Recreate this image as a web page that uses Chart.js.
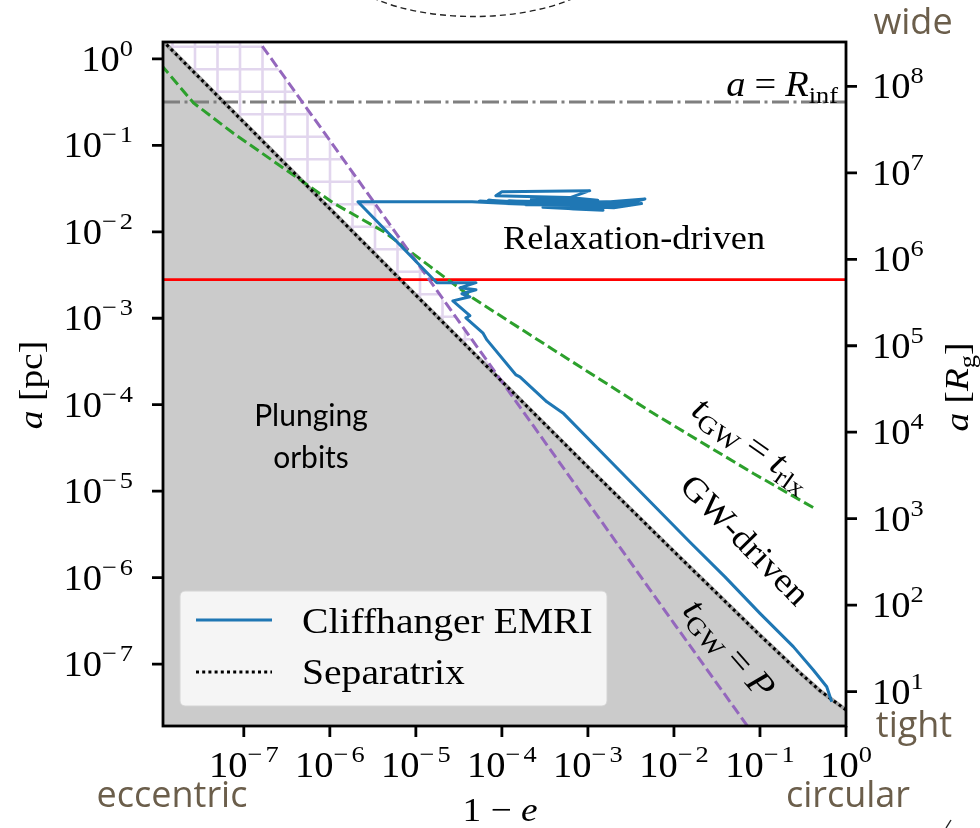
<!DOCTYPE html>
<html>
<head>
<meta charset="utf-8">
<script src="https://cdn.jsdelivr.net/npm/chart.js@4.4.1/dist/chart.umd.min.js"></script>
<style>
  html, body { margin: 0; padding: 0; background: #fff; }
  #chart { display: block; }
</style>
</head>
<body>
<canvas id="chart" width="980" height="828"></canvas>
<script>
// axis ranges: 1-e on x, semi-major axis a [pc] on y, a [Rg] on the right
const xMin = 1.15e-8, xMax = 1;
const aMin = 1.92e-8, aMax = 1.57;
const PC_TO_RG = 2.08e8;

const xTicks = [1e-7, 1e-6, 1e-5, 1e-4, 1e-3, 1e-2, 1e-1, 1e0];
const pcTicks = [1e0, 1e-1, 1e-2, 1e-3, 1e-4, 1e-5, 1e-6, 1e-7];
const rgTicks = [1e8, 1e7, 1e6, 1e5, 1e4, 1e3, 1e2, 1e1];

// separatrix (plunge boundary)
const sepX = [1e-8, 1e-6, 1e-5, 1e-4, 1e-3, 1e-2, 0.1, 0.3, 0.5, 1];
const sepA = [1.85, 1.85e-2, 1.85e-3, 1.86e-4, 1.9e-5, 2.0e-6, 2.15e-7, 7.7e-8, 4.9e-8, 2.95e-8];

// t_GW = P
const periodX = [1e-8, 1e-7, 1e-6, 1e-5, 1e-4, 1e-3, 1e-2, 0.1];
const periodA = [70, 2.8, 0.114, 4.6e-3, 1.85e-4, 7.4e-6, 2.96e-7, 1.2e-8];

// t_GW = t_rlx
const relaxX = [1.1e-8, 2.6e-8, 7.5e-8, 3.1e-7, 1.1e-6, 4.2e-6, 1.46e-5, 4.6e-5, 4.0e-4, 5.7e-3, 8.4e-2, 0.46];
const relaxA = [0.85, 0.31, 0.139, 0.052, 0.0215, 0.0101, 3.98e-3, 1.71e-3, 4.3e-4, 8.0e-5, 1.6e-5, 6.1e-6];

// horizontal levels
const redA = 2.8e-3;
const rInfA = 0.318;

// Cliffhanger EMRI track: relaxation random walk, jump, then GW inspiral
const emriX = [4.0e-3, 1.2e-3, 4.6e-3, 2.5e-3, 3.6e-3, 8.0e-4, 2.0e-3, 4.2e-3, 6.0e-4, 1.5e-3,
  3.0e-4, 1.05e-3, 1.0e-4, 8.5e-5, 6.0e-4, 1.3e-3, 2.2e-4, 3.0e-3, 1.6e-4, 2.4e-3,
  3.4e-4, 3.8e-3, 2.0e-4, 1.1e-3, 2.6e-4, 2.2e-3, 1.4e-4, 9.0e-4, 3.2e-3, 4.0e-4,
  1.7e-3, 1.1e-4, 7.5e-4, 2.9e-3, 1.9e-4, 1.4e-3, 8.0e-5, 6.5e-4, 2.7e-3, 2.4e-4,
  9.0e-4, 1.2e-4, 1.8e-3, 5.0e-4, 7.0e-5, 1.0e-3, 2.8e-4, 5.5e-5, 7.0e-4, 1.6e-4,
  4.5e-5, 2.12e-6, 1.75e-5, 5.0e-5, 3.25e-5, 5.0e-5, 3.43e-5, 4.25e-5, 2.69e-5, 4.25e-5,
  3.81e-5, 6.0e-5, 6.7e-5, 1.46e-4, 1.62e-4, 3.33e-4, 5.12e-4, 2.36e-3, 1.53e-2, 3.92e-2,
  0.1, 0.244, 0.417, 0.597, 0.682];
const emriA = [0.0232, 0.0215, 0.0240, 0.0205, 0.0222, 0.0196, 0.0190, 0.0212, 0.0185, 0.0178,
  0.0192, 0.0299, 0.0290, 0.0262, 0.0250, 0.0232, 0.0238, 0.0214, 0.0221, 0.0200,
  0.0207, 0.0226, 0.0216, 0.0203, 0.0224, 0.0210, 0.0218, 0.0200, 0.0219, 0.0209,
  0.0194, 0.0213, 0.0222, 0.0203, 0.0206, 0.0216, 0.0220, 0.0199, 0.0224, 0.0211,
  0.0220, 0.0228, 0.0208, 0.0205, 0.0232, 0.0198, 0.0214, 0.0226, 0.0212, 0.0210,
  0.0223, 0.0223, 2.58e-3, 2.58e-3, 2.25e-3, 2.14e-3, 1.92e-3, 1.77e-3, 1.59e-3, 1.07e-3,
  1.01e-3, 6.78e-4, 5.62e-4, 2.21e-4, 2.10e-4, 1.08e-4, 8.04e-5, 1.71e-5, 2.58e-6, 1.02e-6,
  3.86e-7, 1.59e-7, 8.53e-8, 5.46e-8, 3.66e-8];

const SERIF = '"Liberation Serif", "Times New Roman", serif';
const SANS = '"Open Sans", "Noto Sans", sans-serif';
const STRETCH = 1.1;
const BROWN = '#6b5e4b';

function pts(xs, ys) {
  return xs.map((x, i) => ({ x: x, y: ys[i] }));
}

function makeHatch() {
  const c = document.createElement('canvas');
  c.width = 45; c.height = 45;
  const g = c.getContext('2d');
  g.strokeStyle = '#e2d6ee';
  g.lineWidth = 2.6;
  [15, 37.5].forEach(v => { g.beginPath(); g.moveTo(v, 0); g.lineTo(v, 45); g.stroke(); });
  [1.7, 24.2].forEach(h => { g.beginPath(); g.moveTo(0, h); g.lineTo(45, h); g.stroke(); });
  return g.createPattern(c, 'repeat');
}

// draw a run of text pieces (math-like labels) on one baseline
function drawRuns(ctx, runs, x, y, align) {
  let w = 0;
  runs.forEach(r => {
    ctx.font = (r.i ? 'italic ' : '') + r.s + 'px ' + SERIF;
    r.w = ctx.measureText(r.t).width * STRETCH + (r.gap || 0);
    w += r.w;
  });
  let cx = align === 'center' ? x - w / 2 : align === 'right' ? x - w : x;
  runs.forEach(r => {
    ctx.save();
    ctx.translate(cx, y + (r.dy || 0));
    ctx.scale(STRETCH, 1);
    ctx.font = (r.i ? 'italic ' : '') + r.s + 'px ' + SERIF;
    ctx.textAlign = 'left';
    ctx.textBaseline = 'alphabetic';
    ctx.fillText(r.t, 0, 0);
    ctx.restore();
    cx += r.w;
  });
}

function powLabel(ctx, v, x, y, align) {
  const k = Math.round(Math.log10(v));
  const runs = [{ t: '10', s: 35 }];
  if (k < 0) {
    runs.push({ t: '\u2212', s: 24, dy: -15, gap: 3 }, { t: String(-k), s: 24, dy: -15 });
  } else {
    runs.push({ t: String(k), s: 24, dy: -15 });
  }
  drawRuns(ctx, runs, x, y, align);
}

function rotated(ctx, runs, x, y, deg) {
  ctx.save();
  ctx.translate(x, y);
  ctx.rotate(deg * Math.PI / 180);
  drawRuns(ctx, runs, 0, 11, 'center');
  ctx.restore();
}

const decor = {
  id: 'decor',
  beforeDraw(chart) {
    const ctx = chart.ctx;
    ctx.save();
    ctx.fillStyle = '#fff';
    ctx.fillRect(0, 0, chart.width, chart.height);
    ctx.restore();
  },
  afterDraw(chart) {
    const ctx = chart.ctx, ca = chart.chartArea;
    const sx = chart.scales.x, sy = chart.scales.y, sr = chart.scales.y2;
    ctx.save();
    ctx.fillStyle = '#000';
    ctx.strokeStyle = '#000';

    // in-plot annotations
    drawRuns(ctx, [{ t: 'Relaxation-driven', s: 33 }], 634, 249, 'center');
    drawRuns(ctx, [{ t: 'a', s: 35, i: true, gap: 9 }, { t: '=', s: 35, gap: 9 }, { t: 'R', s: 35, i: true }, { t: 'inf', s: 24, dy: 7 }], 838, 96, 'right');
    rotated(ctx, [{ t: 't', s: 36, i: true }, { t: 'GW', s: 25, dy: 7, gap: 8 }, { t: '=', s: 36, gap: 8 }, { t: 't', s: 36, i: true }, { t: 'rlx', s: 25, dy: 7 }], 752, 444, 35);
    rotated(ctx, [{ t: 'GW-driven', s: 34 }], 745, 540, 45.5);
    rotated(ctx, [{ t: 't', s: 36, i: true }, { t: 'GW', s: 25, dy: 7, gap: 8 }, { t: '=', s: 36, gap: 8 }, { t: 'P', s: 36, i: true }], 729, 649, 49);

    ctx.font = '30px Lato, ' + SANS;
    ctx.textAlign = 'center';
    ctx.textBaseline = 'alphabetic';
    ctx.fillText('Plunging', 311, 426);
    ctx.fillText('orbits', 311, 468);

    // legend
    const lx = 180, ly = 591, lw = 427, lh = 115;
    ctx.beginPath();
    ctx.roundRect(lx, ly, lw, lh, 5);
    ctx.fillStyle = 'rgba(255,255,255,0.8)';
    ctx.fill();
    ctx.strokeStyle = '#d4d4d4';
    ctx.lineWidth = 1;
    ctx.stroke();
    const dsE = chart.data.datasets[0], dsS = chart.data.datasets[1];
    ctx.lineWidth = dsE.borderWidth;
    ctx.strokeStyle = dsE.borderColor;
    ctx.beginPath(); ctx.moveTo(196, 620); ctx.lineTo(272, 620); ctx.stroke();
    ctx.lineWidth = dsS.borderWidth;
    ctx.strokeStyle = dsS.borderColor;
    ctx.setLineDash(dsS.borderDash);
    ctx.beginPath(); ctx.moveTo(196, 672); ctx.lineTo(272, 672); ctx.stroke();
    ctx.setLineDash([]);
    ctx.fillStyle = '#000';
    drawRuns(ctx, [{ t: dsE.label, s: 36 }], 302, 633, 'left');
    drawRuns(ctx, [{ t: dsS.label, s: 36 }], 302, 684, 'left');

    // frame and ticks
    ctx.strokeStyle = '#000';
    ctx.lineWidth = 2.8;
    ctx.beginPath();
    xTicks.forEach(v => {
      const px = sx.getPixelForValue(v);
      ctx.moveTo(px, ca.bottom); ctx.lineTo(px, ca.bottom + 11);
    });
    pcTicks.forEach(v => {
      const py = sy.getPixelForValue(v);
      ctx.moveTo(ca.left, py); ctx.lineTo(ca.left - 11, py);
    });
    rgTicks.forEach(v => {
      const py = sr.getPixelForValue(v);
      ctx.moveTo(ca.right, py); ctx.lineTo(ca.right + 11, py);
    });
    ctx.stroke();
    ctx.strokeRect(ca.left, ca.top, ca.right - ca.left, ca.bottom - ca.top);

    xTicks.forEach(v => powLabel(ctx, v, sx.getPixelForValue(v), 777, 'center'));
    pcTicks.forEach(v => powLabel(ctx, v, 133, sy.getPixelForValue(v) + 12, 'right'));
    rgTicks.forEach(v => powLabel(ctx, v, 872, sr.getPixelForValue(v) + 12, 'left'));

    // axis titles
    drawRuns(ctx, [{ t: '1 \u2212 ', s: 34 }, { t: 'e', s: 34, i: true }], 500, 821, 'center');
    ctx.save();
    ctx.translate(42, 385);
    ctx.rotate(-Math.PI / 2);
    drawRuns(ctx, [{ t: 'a', s: 34, i: true }, { t: ' [pc]', s: 34 }], 0, 0, 'center');
    ctx.restore();
    ctx.save();
    ctx.translate(968, 387);
    ctx.rotate(-Math.PI / 2);
    drawRuns(ctx, [{ t: 'a', s: 34, i: true }, { t: ' [', s: 34 }, { t: 'R', s: 34, i: true }, { t: 'g', s: 24, dy: 7 }, { t: ']', s: 34 }], 0, 0, 'center');
    ctx.restore();

    // orientation hints around the axes
    ctx.fillStyle = BROWN;
    ctx.font = '36px ' + SANS;
    ctx.textAlign = 'center';
    ctx.textBaseline = 'alphabetic';
    ctx.fillText('wide', 913, 34);
    ctx.fillText('tight', 914, 737);
    ctx.fillText('eccentric', 172, 807);
    ctx.fillText('circular', 848, 807);

    // dashed orbit outlines at the edges
    ctx.strokeStyle = '#222';
    ctx.lineWidth = 1.4;
    ctx.setLineDash([6, 4]);
    ctx.beginPath();
    ctx.ellipse(473.5, -43.5, 139, 60, 0, 0, Math.PI);
    ctx.stroke();
    ctx.setLineDash([]);
    ctx.beginPath();
    ctx.moveTo(946, 828); ctx.lineTo(951, 820);
    ctx.stroke();
    ctx.restore();
  }
};

const hatch = makeHatch();

new Chart(document.getElementById('chart'), {
  type: 'line',
  data: {
    datasets: [
      {
        label: 'Cliffhanger EMRI',
        data: pts(emriX, emriA),
        borderColor: '#1f77b4',
        borderWidth: 3,
        borderJoinStyle: 'round',
        fill: false,
        order: 0
      },
      {
        label: 'Separatrix',
        data: pts(sepX, sepA),
        borderColor: '#000',
        borderWidth: 3,
        borderDash: [3, 3.2],
        fill: false,
        order: 1
      },
      {
        label: 'tGW = P',
        data: pts(periodX, periodA),
        borderColor: '#9467bd',
        borderWidth: 3,
        borderDash: [10.5, 4.5],
        fill: { target: 1, above: hatch, below: 'rgba(0,0,0,0)' },
        order: 2
      },
      {
        label: 'tGW = trlx',
        data: pts(relaxX, relaxA),
        borderColor: '#2ca02c',
        borderWidth: 3,
        borderDash: [10.5, 4.5],
        fill: false,
        order: 3
      },
      {
        label: 'a = a_c',
        data: pts([xMin, xMax], [redA, redA]),
        borderColor: '#ff0000',
        borderWidth: 2.8,
        fill: false,
        order: 4
      },
      {
        label: 'a = R_inf',
        data: pts([xMin, xMax], [rInfA, rInfA]),
        borderColor: '#7f7f7f',
        borderWidth: 3,
        borderDash: [17, 4.5, 3, 4.5],
        fill: false,
        order: 5
      },
      {
        label: 'plunge',
        data: pts(sepX, sepA),
        borderColor: '#a3a3a3',
        borderWidth: 4,
        backgroundColor: '#cbcbcb',
        fill: 'start',
        order: 6
      }
    ]
  },
  options: {
    responsive: false,
    animation: false,
    events: [],
    layout: { padding: { left: 163, right: 134, top: 42, bottom: 102 } },
    elements: { point: { radius: 0 }, line: { tension: 0 } },
    scales: {
      x: { type: 'logarithmic', min: xMin, max: xMax, display: false },
      y: { type: 'logarithmic', min: aMin, max: aMax, display: false },
      y2: { type: 'logarithmic', position: 'right', min: aMin * PC_TO_RG, max: aMax * PC_TO_RG, display: false }
    },
    plugins: {
      legend: { display: false },
      tooltip: { enabled: false },
      filler: { drawTime: 'beforeDatasetsDraw' }
    }
  },
  plugins: [decor]
});
</script>
</body>
</html>
